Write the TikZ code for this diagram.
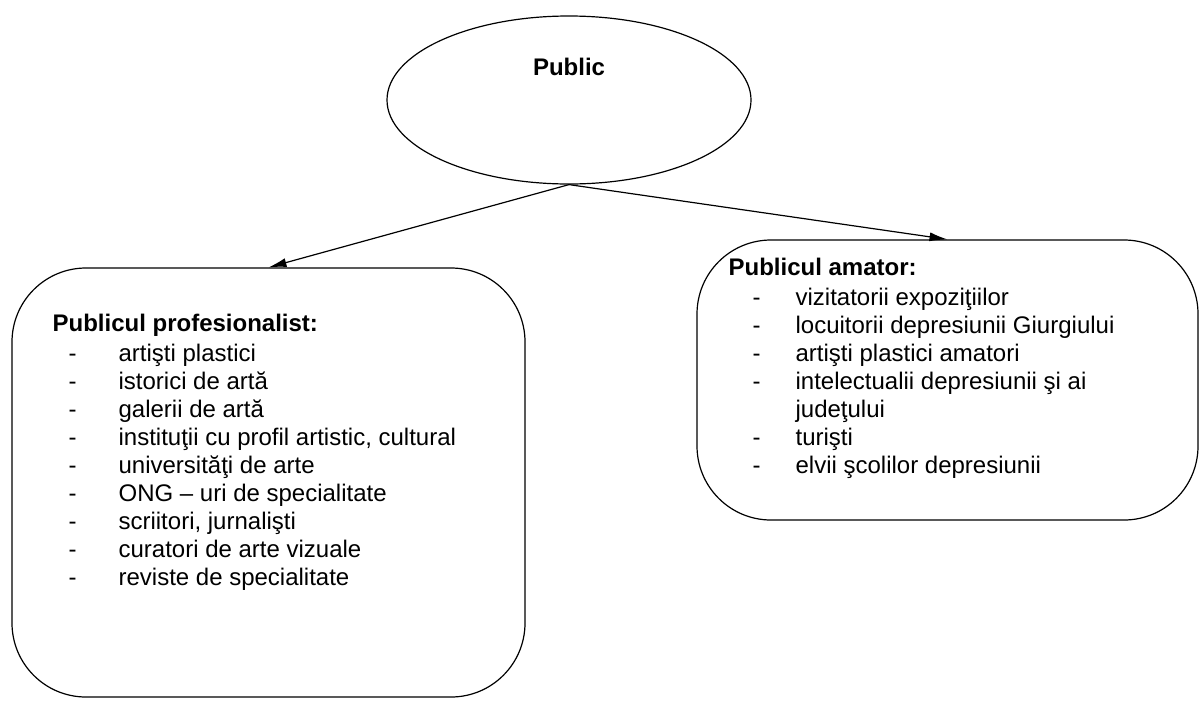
\documentclass[tikz,border=0pt]{standalone}
\usepackage{fontspec}
\setmainfont{Liberation Sans}
\usetikzlibrary{positioning,shapes.geometric,arrows.meta}

\begin{document}
\begin{tikzpicture}[x=0.5pt,y=-0.5pt, line width=0.6pt,
    grp/.style={draw,rounded corners=37pt,inner sep=0pt},
    lst/.style={anchor=north west,inner sep=0pt,font=\fontsize{12}{14}\selectfont},
    conn/.style={-{Latex[length=9pt,width=4.5pt]},shorten >=0pt}]
  \useasboundingbox (0,0) rectangle (1202,707);

  % top ellipse
  \node[ellipse,draw,minimum width=182pt,minimum height=84pt,inner sep=0pt] (pub) at (569,100) {};
  \node[font=\fontsize{12}{14}\selectfont\bfseries] (pubtxt) at (569,67) {Public};

  % the two groups
  \node[grp,minimum width=256.5pt,minimum height=214.5pt] (prof) at (268.5,482.5) {};
  \node[grp,minimum width=250.5pt,minimum height=140pt] (amat) at (947.5,380) {};

  \node[lst] (proftxt) at (52,311) {%
    \begin{tabular}{@{\hspace{8pt}}l@{\hspace{21pt}}l@{}}
      \multicolumn{2}{@{}l@{}}{\bfseries Publicul profesionalist:}\\[1pt]
      - & artişti plastici\\
      - & istorici de artă\\
      - & galerii de artă\\
      - & instituţii cu profil artistic, cultural\\
      - & universităţi  de arte\\
      - & ONG – uri de specialitate\\
      - & scriitori, jurnalişti\\
      - & curatori de arte vizuale\\
      - & reviste de specialitate
    \end{tabular}};

  \node[lst] (amattxt) at (728,255) {%
    \begin{tabular}{@{\hspace{12pt}}l@{\hspace{17.5pt}}l@{}}
      \multicolumn{2}{@{}l@{}}{\bfseries Publicul amator:}\\[1pt]
      - & vizitatorii expoziţiilor\\
      - & locuitorii depresiunii Giurgiului\\
      - & artişti plastici amatori\\
      - & intelectualii depresiunii şi ai\\
        & judeţului\\
      - & turişti\\
      - & elvii şcolilor depresiunii
    \end{tabular}};

  \draw[conn] (pub.south) -- (prof.north);
  \draw[conn] (pub.south) -- (amat.north);
\end{tikzpicture}
\end{document}
